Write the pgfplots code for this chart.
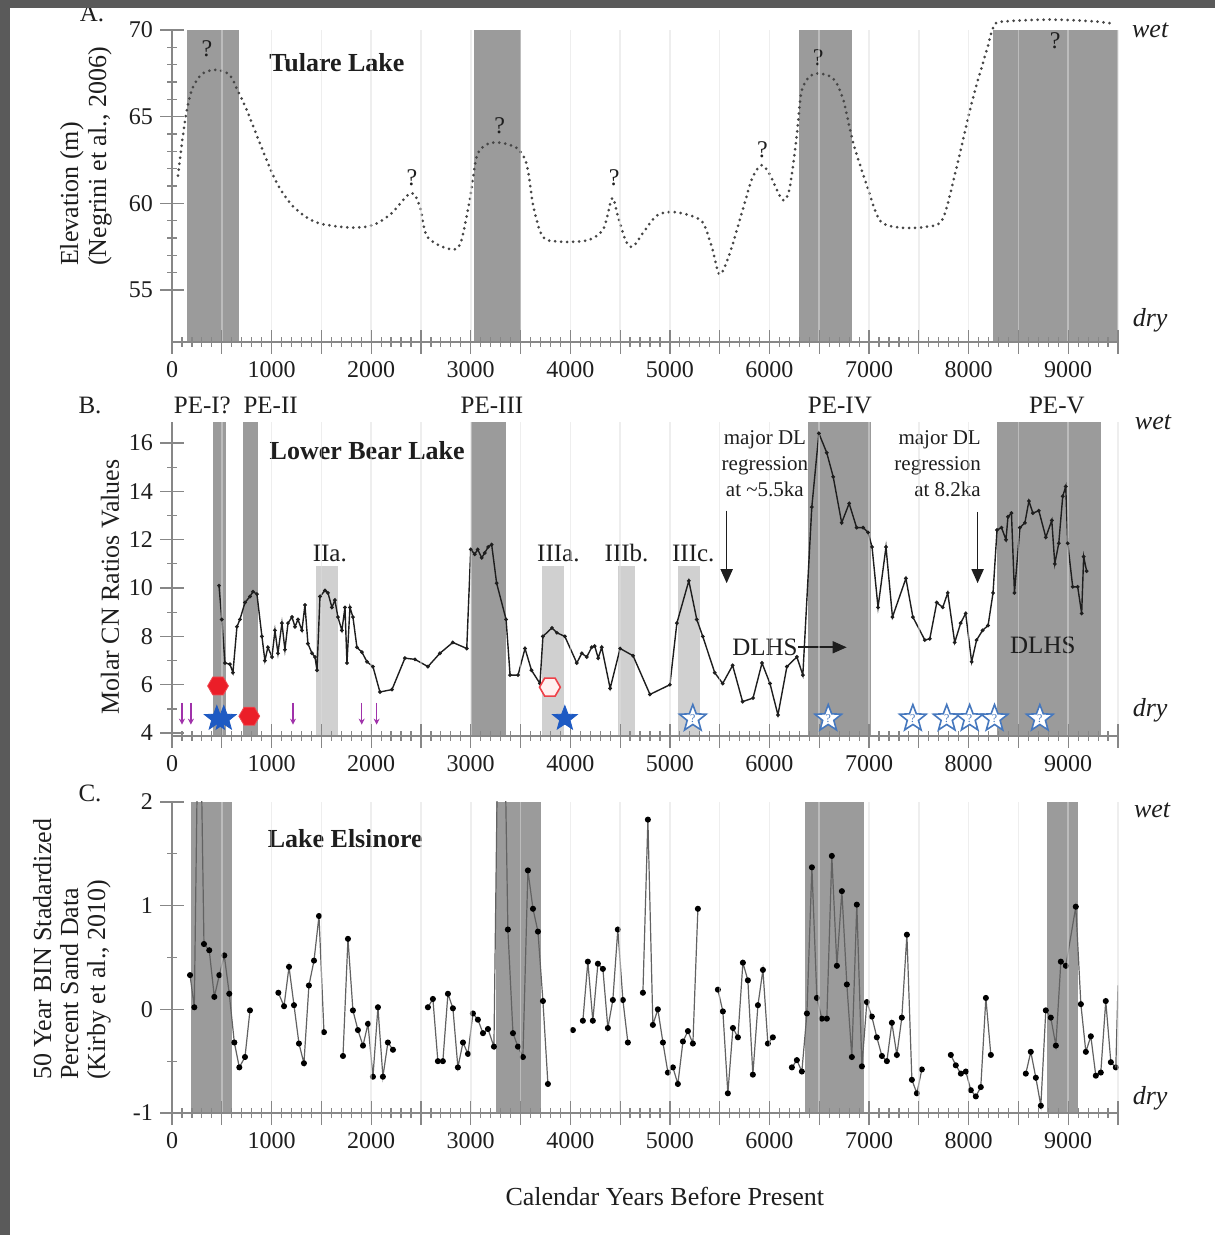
\documentclass[border=0pt]{standalone}
\usepackage{fontspec}
\setmainfont{Liberation Serif}
\usepackage{pgfplots}
\pgfplotsset{compat=1.18}
\usetikzlibrary{arrows.meta}
\definecolor{framegray}{RGB}{90,90,90}
\definecolor{darkbar}{RGB}{155,155,155}
\definecolor{lightbar}{RGB}{208,208,208}
\definecolor{txt}{RGB}{30,30,30}
\definecolor{axgray}{RGB}{135,135,135}
\definecolor{starblue}{RGB}{30,90,195}
\definecolor{openblue}{RGB}{70,120,190}
\definecolor{hexred}{RGB}{235,30,40}
\definecolor{arrowpurple}{RGB}{160,50,170}
\definecolor{linec}{RGB}{70,70,70}
\definecolor{gridc}{RGB}{222,222,222}

\pgfdeclareplotmark{hexagon}{%
  \pgfpathmoveto{\pgfqpointpolar{0}{\pgfplotmarksize}}%
  \pgfpathlineto{\pgfqpointpolar{60}{\pgfplotmarksize}}%
  \pgfpathlineto{\pgfqpointpolar{120}{\pgfplotmarksize}}%
  \pgfpathlineto{\pgfqpointpolar{180}{\pgfplotmarksize}}%
  \pgfpathlineto{\pgfqpointpolar{240}{\pgfplotmarksize}}%
  \pgfpathlineto{\pgfqpointpolar{300}{\pgfplotmarksize}}%
  \pgfpathclose\pgfusepathqfillstroke}
\pgfdeclareplotmark{fivestar}{%
  \pgfpathmoveto{\pgfqpointpolar{90}{\pgfplotmarksize}}%
  \pgfpathlineto{\pgfqpointpolar{126}{0.42\pgfplotmarksize}}%
  \pgfpathlineto{\pgfqpointpolar{162}{\pgfplotmarksize}}%
  \pgfpathlineto{\pgfqpointpolar{198}{0.42\pgfplotmarksize}}%
  \pgfpathlineto{\pgfqpointpolar{234}{\pgfplotmarksize}}%
  \pgfpathlineto{\pgfqpointpolar{270}{0.42\pgfplotmarksize}}%
  \pgfpathlineto{\pgfqpointpolar{306}{\pgfplotmarksize}}%
  \pgfpathlineto{\pgfqpointpolar{342}{0.42\pgfplotmarksize}}%
  \pgfpathlineto{\pgfqpointpolar{18}{\pgfplotmarksize}}%
  \pgfpathlineto{\pgfqpointpolar{54}{0.42\pgfplotmarksize}}%
  \pgfpathclose\pgfusepathqfillstroke}

\pgfplotsset{
  panel/.style={
    scale only axis, width=473pt, anchor=south west,
    xmin=0, xmax=9500,
    axis x line=bottom, axis y line=left,
    axis line style={-, axgray, line width=0.6pt},
    xtick={0,500,...,9500},
    xticklabels={0,,1000,,2000,,3000,,4000,,5000,,6000,,7000,,8000,,9000,},
    minor x tick num=4,
    tick align=center,
    major tick length=12pt, minor tick length=5pt,
    every tick/.style={axgray, line width=0.6pt},
    xmajorgrids, grid style={gridc, opacity=0.5, line width=0.8pt},
    axis on top,
    ticklabel style={font=\fontsize{12}{12}\selectfont, text=txt},
    /pgf/number format/assume math mode=true,
    label style={font=\fontsize{13}{14}\selectfont, text=txt},
  },
  bar/.style={draw=none, fill=darkbar, forget plot},
  lbar/.style={draw=none, fill=lightbar, forget plot},
}
\newcommand{\ttl}{\bfseries\fontsize{13}{13}\selectfont}
\newcommand{\wetdry}{\itshape\fontsize{13}{13}\selectfont}
\newcommand{\pl}{\fontsize{12.5}{12.5}\selectfont}

\begin{document}
\begin{tikzpicture}
\fill[white] (0,0) rectangle (607.5pt,617.5pt);

% ---------------- Panel A ----------------
\begin{axis}[panel, at={(86pt,446.5pt)}, height=156pt,
  ymin=52, ymax=70, ytick={55,60,65,70}, minor y tick num=4, clip=false,
  ylabel={Elevation (m)\\(Negrini et al., 2006)},
  ylabel style={at={(axis description cs:-0.091,0.221)}, anchor=west, align=left}]
\addplot[bar] coordinates {(150,52) (150,70) (670,70) (670,52)} -- cycle;
\addplot[bar] coordinates {(3030,52) (3030,70) (3500,70) (3500,52)} -- cycle;
\addplot[bar] coordinates {(6295,52) (6295,70) (6827,70) (6827,52)} -- cycle;
\addplot[bar] coordinates {(8243,52) (8243,70) (9500,70) (9500,52)} -- cycle;
\addplot[smooth, tension=0.5, linec, line width=1.5pt, line cap=round, dash pattern=on 0pt off 3pt]
 coordinates {(60,61.6) (100,63.5) (150,65.4) (210,66.7) (310,67.5) (450,67.7) (580,67.4) (660,66.5) (750,65.4) (880,63.5) (1050,61.2) (1220,59.8) (1450,58.9) (1790,58.6) (2020,58.75) (2200,59.4) (2400,60.6) (2490,59.8) (2560,58.1) (2760,57.4) (2890,57.6) (2990,60.2) (3060,62.7) (3160,63.4) (3290,63.5) (3460,63.2) (3560,62.3) (3630,59.8) (3720,58.1) (3860,57.8) (4160,57.85) (4330,58.5) (4420,60.3) (4480,59.2) (4560,57.8) (4630,57.5) (4730,58.3) (4870,59.3) (5030,59.5) (5200,59.3) (5330,58.9) (5420,57.5) (5500,55.9) (5600,57.1) (5740,59.8) (5830,61.5) (5920,62.2) (6000,61.7) (6130,60.2) (6200,60.8) (6270,63.7) (6320,66.4) (6400,67.3) (6490,67.5) (6640,67.2) (6740,66) (6840,63.5) (6980,61) (7110,59) (7310,58.6) (7580,58.65) (7740,59.1) (7880,62.1) (8040,66) (8180,68.8) (8260,70.3) (8380,70.5) (8820,70.6) (9250,70.5) (9470,70.35)};
\begin{scope}[every node/.style={font=\fontsize{12}{12}\selectfont, text=txt}]
\node at (axis cs:350,68.9) {?};
\node at (axis cs:2410,61.5) {?};
\node at (axis cs:3290,64.5) {?};
\node at (axis cs:4440,61.5) {?};
\node at (axis cs:5930,63.1) {?};
\node at (axis cs:6490,68.4) {?};
\node at (axis cs:8870,69.4) {?};
\end{scope}
\node[font=\ttl, text=txt] at (axis cs:1656,68.1) {Tulare Lake};
\node[font=\wetdry, text=txt] at (axis description cs:1.034,1.0) {wet};
\node[font=\wetdry, text=txt] at (axis description cs:1.034,0.07) {dry};
\node[font=\fontsize{12.5}{12.5}\selectfont, text=txt] at (axis description cs:-0.0846,1.054) {A.};
\end{axis}

% ---------------- Panel B ----------------
\begin{axis}[panel, at={(86pt,249.5pt)}, height=157pt,
  ymin=3.88, ymax=16.87, ytick={4,6,...,16}, minor y tick num=1, clip=false,
  ylabel={Molar CN Ratios Values},
  ylabel style={at={(axis description cs:-0.0655,0.475)}, anchor=center}]
\addplot[bar] coordinates {(412,3.88) (412,16.87) (542,16.87) (542,3.88)} -- cycle;
\addplot[bar] coordinates {(713,3.88) (713,16.87) (863,16.87) (863,3.88)} -- cycle;
\addplot[bar] coordinates {(3002,3.88) (3002,16.87) (3353,16.87) (3353,3.88)} -- cycle;
\addplot[bar] coordinates {(6386,3.88) (6386,16.87) (7018,16.87) (7018,3.88)} -- cycle;
\addplot[bar] coordinates {(8283,3.88) (8283,16.87) (9327,16.87) (9327,3.88)} -- cycle;
\addplot[lbar] coordinates {(1446,3.88) (1446,10.9) (1667,10.9) (1667,3.88)} -- cycle;
\addplot[lbar] coordinates {(3715,3.88) (3715,10.9) (3936,10.9) (3936,3.88)} -- cycle;
\addplot[lbar] coordinates {(4478,3.88) (4478,10.9) (4649,10.9) (4649,3.88)} -- cycle;
\addplot[lbar] coordinates {(5080,3.88) (5080,10.9) (5301,10.9) (5301,3.88)} -- cycle;
\node[font=\fontsize{10.5}{13}\selectfont, text=txt, align=center] at (axis cs:5954,15.13) {major DL\\regression\\at \textasciitilde5.5ka};
\node[font=\fontsize{10.5}{13}\selectfont, text=txt, align=right, anchor=east] at (axis cs:8193,15.13) {major DL\\regression\\at 8.2ka};
\addplot[txt, line width=0.7pt, mark=*, mark size=0.55pt]
 coordinates {(472,10.1) (500,8.7) (532,6.9) (582,6.85) (612,6.5) (652,8.4) (682,8.7) (733,9.4) (783,9.65) (813,9.85) (853,9.75) (903,8.0) (933,7.0) (963,7.55) (1004,7.15) (1034,8.25) (1064,7.3) (1104,8.55) (1134,7.45) (1165,8.55) (1205,8.8) (1235,8.4) (1265,8.7) (1305,8.25) (1335,9.3) (1365,7.7) (1406,7.3) (1436,7.15) (1456,6.6) (1486,9.65) (1536,9.9) (1566,9.8) (1606,9.2) (1636,9.5) (1666,8.8) (1706,8.25) (1737,9.2) (1757,6.9) (1787,9.2) (1817,8.8) (1857,7.55) (1907,7.35) (1958,6.95) (2018,6.75) (2088,5.7) (2209,5.8) (2339,7.1) (2440,7.05) (2570,6.75) (2690,7.3) (2820,7.75) (2960,7.5) (3000,11.6) (3040,11.4) (3070,11.6) (3110,11.25) (3140,11.45) (3175,11.7) (3210,11.8) (3260,10.2) (3355,8.7) (3395,6.4) (3475,6.4) (3545,7.5) (3610,6.6) (3695,6.05) (3725,8.0) (3815,8.35) (3865,8.15) (3945,8.0) (4065,6.9) (4115,7.3) (4165,7.15) (4215,7.55) (4245,7.6) (4280,7.1) (4315,7.55) (4400,5.85) (4500,7.5) (4630,7.2) (4800,5.6) (5000,6.0) (5070,8.55) (5190,10.3) (5270,8.7) (5330,8.0) (5450,6.5) (5530,6.05) (5630,6.8) (5730,5.3) (5835,5.45) (5925,6.9) (6005,6.05) (6085,4.75) (6175,6.75) (6275,7.15) (6335,6.4) (6425,13.35) (6496,16.4) (6575,15.6) (6640,14.6) (6725,12.7) (6800,13.5) (6875,12.5) (6940,12.5) (6990,12.3) (7030,11.7) (7090,9.2) (7170,11.7) (7235,8.8) (7370,10.4) (7440,8.8) (7560,7.85) (7610,7.9) (7680,9.4) (7740,9.2) (7790,9.8) (7860,7.75) (7920,8.55) (7970,8.95) (8030,6.95) (8080,7.85) (8140,8.25) (8195,8.45) (8245,9.8) (8285,12.4) (8330,12.5) (8375,12.0) (8395,12.95) (8430,13.1) (8460,9.8) (8515,12.5) (8565,12.7) (8605,13.6) (8645,13.1) (8705,13.2) (8775,12.1) (8835,12.8) (8865,11.0) (8905,11.85) (8945,13.8) (8975,14.2) (8995,11.85) (9045,10.05) (9095,10.05) (9135,8.95) (9155,11.3) (9185,10.7)};
% purple arrows
\addplot[arrowpurple, line width=0.6pt, -{Stealth[length=3pt,width=3pt]}, quiver={u=0, v=-0.9}]
 coordinates {(100,5.25) (190,5.25) (1215,5.25) (1905,5.25) (2055,5.25)};
% red hexagons
\addplot[only marks, mark=hexagon, mark size=5.2pt, mark options={draw=hexred!80!white, fill=hexred}]
 coordinates {(462,5.95) (776,4.7)};
\addplot[only marks, mark=hexagon, mark size=5.2pt, mark options={draw=hexred!85!white, fill=red!6, line width=0.8pt}]
 coordinates {(3795,5.9)};
% blue stars
\addplot[only marks, mark=fivestar, mark size=6.5pt, mark options={draw=starblue, fill=starblue}]
 coordinates {(450,4.6) (520,4.6) (3945,4.6)};
\addplot[only marks, mark=fivestar, mark size=7pt, mark options={draw=openblue, fill=white, line width=0.8pt},
  nodes near coords={?}, every node near coord/.append style={anchor=center, font=\fontsize{6}{6}\selectfont, text=openblue}]
 coordinates {(5230,4.6) (6590,4.6) (7440,4.6) (7780,4.6) (8010,4.6) (8260,4.6) (8715,4.6)};
\draw[txt, line width=0.8pt, -{Triangle[length=7pt,width=6pt]}] (axis cs:5570,13.2) -- (axis cs:5570,10.2);
\draw[txt, line width=0.8pt, -{Triangle[length=7pt,width=6pt]}] (axis cs:8090,13.15) -- (axis cs:8090,10.2);
\node[font=\fontsize{12.5}{12.5}\selectfont, text=txt] at (axis cs:5955,7.55) {DLHS};
\draw[txt, line width=0.8pt, -{Triangle[length=7pt,width=6pt]}] (axis cs:6290,7.55) -- (axis cs:6775,7.55);
\node[font=\fontsize{12.5}{12.5}\selectfont, text=txt] at (axis cs:8745,7.65) {DLHS};
\node[font=\ttl, text=txt] at (axis cs:1960,15.7) {Lower Bear Lake};
\begin{scope}[every node/.style={font=\pl, text=txt}]
\node at (axis cs:1585,11.45) {IIa.};
\node at (axis cs:3880,11.45) {IIIa.};
\node at (axis cs:4565,11.45) {IIIb.};
\node at (axis cs:5235,11.45) {IIIc.};
\node at (axis cs:305,17.57) {PE-I?};
\node at (axis cs:990,17.57) {PE-II};
\node at (axis cs:3213,17.57) {PE-III};
\node at (axis cs:6707,17.57) {PE-IV};
\node at (axis cs:8886,17.57) {PE-V};
\end{scope}
\node[font=\wetdry, text=txt] at (axis description cs:1.037,1.0) {wet};
\node[font=\wetdry, text=txt] at (axis description cs:1.034,0.083) {dry};
\node[font=\fontsize{12.5}{12.5}\selectfont, text=txt] at (axis description cs:-0.0867,1.054) {B.};
\end{axis}

% ---------------- Panel C ----------------
\begin{axis}[panel, at={(86pt,61pt)}, height=155.5pt,
  ymin=-1, ymax=2, ytick={-1,0,1,2}, minor y tick num=1, clip mode=individual,
  ylabel={50 Year BIN Stadardized\\Percent Sand Data\\(Kirby et al., 2010)},
  ylabel style={at={(axis description cs:-0.1057,0.084)}, anchor=west, align=left, font=\fontsize{13}{13.5}\selectfont},
  xlabel={Calendar Years Before Present},
  xlabel style={at={(axis description cs:0.521,-0.27)}, anchor=center},
  cdata/.style={linec!85!white, line width=0.6pt, mark=*, mark size=1.2pt, mark options={fill=black, draw=black}}]
\addplot[bar] coordinates {(190,-1) (190,2) (603,2) (603,-1)} -- cycle;
\addplot[bar] coordinates {(3253,-1) (3253,2) (3705,2) (3705,-1)} -- cycle;
\addplot[bar] coordinates {(6355,-1) (6355,2) (6948,2) (6948,-1)} -- cycle;
\addplot[bar] coordinates {(8785,-1) (8785,2) (9096,2) (9096,-1)} -- cycle;
\addplot[cdata] coordinates {(181,0.33) (224,0.02) (273,3.7) (321,0.63) (374,0.57) (425,0.12) (475,0.33) (525,0.52) (575,0.15) (626,-0.32) (676,-0.56) (733,-0.46) (783,-0.01)};
\addplot[cdata] coordinates {(1068,0.16) (1125,0.03) (1175,0.41) (1225,0.04) (1275,-0.33) (1325,-0.52) (1375,0.23) (1426,0.47) (1476,0.9) (1526,-0.22)};
\addplot[cdata] coordinates {(1717,-0.45) (1767,0.68) (1817,-0.01) (1867,-0.2) (1918,-0.35) (1968,-0.14) (2018,-0.65) (2068,0.02) (2118,-0.65) (2168,-0.32) (2219,-0.39)};
\addplot[cdata] coordinates {(2570,0.02) (2620,0.1) (2670,-0.5) (2720,-0.5) (2771,0.15) (2821,0.01) (2871,-0.56) (2922,-0.32) (2972,-0.43) (3022,-0.04) (3072,-0.1) (3123,-0.23) (3173,-0.19) (3233,-0.36) (3302,5.0) (3373,0.77) (3424,-0.23) (3474,-0.36) (3524,-0.46) (3574,1.34) (3625,0.97) (3675,0.75) (3725,0.08) (3775,-0.72)};
\addplot[cdata] coordinates {(4026,-0.2)};
\addplot[cdata] coordinates {(4126,-0.11) (4176,0.46) (4226,-0.11) (4277,0.44) (4327,0.39) (4377,-0.18) (4427,0.09) (4477,0.77) (4528,0.09) (4578,-0.32)};
\addplot[cdata] coordinates {(4729,0.16) (4779,1.83) (4829,-0.15) (4879,0.0) (4930,-0.32) (4980,-0.61) (5030,-0.56) (5080,-0.72) (5131,-0.31) (5181,-0.21) (5231,-0.33) (5281,0.97)};
\addplot[cdata] coordinates {(5482,0.19) (5532,-0.02) (5582,-0.81) (5633,-0.18) (5683,-0.27) (5733,0.45) (5783,0.28) (5833,-0.63) (5884,0.04) (5934,0.38) (5984,-0.33) (6034,-0.27)};
\addplot[cdata] coordinates {(6225,-0.56) (6275,-0.49) (6325,-0.6) (6376,-0.04) (6426,1.37) (6476,0.11) (6526,-0.09) (6576,-0.09) (6626,1.48) (6677,0.42) (6727,1.14) (6777,0.24) (6827,-0.46) (6877,1.01) (6928,-0.55) (6978,0.07) (7028,-0.07) (7078,-0.27) (7129,-0.45) (7179,-0.5) (7229,-0.13) (7279,-0.44) (7329,-0.08) (7380,0.72) (7430,-0.68) (7480,-0.81) (7530,-0.58)};
\addplot[cdata] coordinates {(7821,-0.44) (7871,-0.54) (7922,-0.62) (7972,-0.6) (8022,-0.78) (8072,-0.84) (8122,-0.75) (8173,0.11) (8223,-0.44)};
\addplot[cdata] coordinates {(8574,-0.62) (8624,-0.41) (8675,-0.66) (8725,-0.93) (8775,-0.01) (8825,-0.08) (8876,-0.35) (8926,0.46) (8976,0.42) (9076,0.99) (9127,0.05) (9177,-0.41) (9227,-0.26) (9277,-0.64) (9327,-0.61) (9377,0.08) (9428,-0.51) (9478,-0.56)};
\addplot[linec!85!white, line width=0.6pt] coordinates {(9478,-0.56) (9500,0.23)};
\node[font=\ttl, text=txt] at (axis cs:1740,1.65) {Lake Elsinore};
\node[font=\wetdry, text=txt] at (axis description cs:1.036,0.974) {wet};
\node[font=\wetdry, text=txt] at (axis description cs:1.034,0.048) {dry};
\node[font=\fontsize{12.5}{12.5}\selectfont, text=txt] at (axis description cs:-0.0867,1.029) {C.};
\end{axis}

\fill[framegray] (0,613.5pt) rectangle (607.5pt,617.5pt);
\fill[framegray] (0,0) rectangle (5pt,617.5pt);
\pgfresetboundingbox
\useasboundingbox (0,0) rectangle (607.5pt,617.5pt);
\end{tikzpicture}
\end{document}
